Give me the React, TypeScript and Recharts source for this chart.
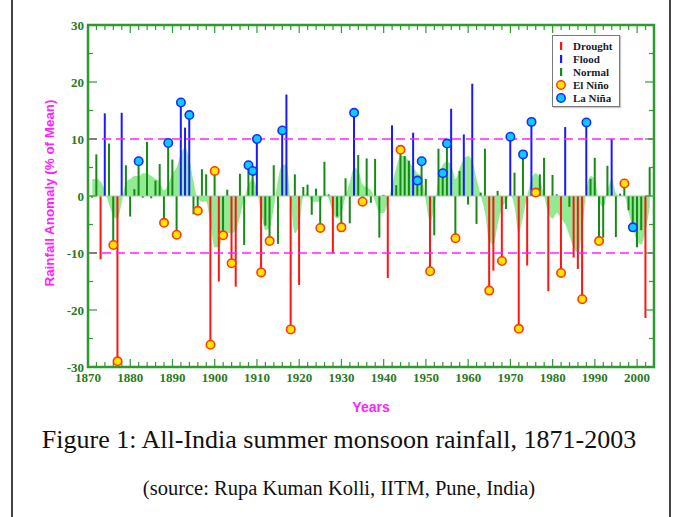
import React from 'react';
import {
  ComposedChart,
  Bar,
  Area,
  Scatter,
  XAxis,
  YAxis,
  ReferenceLine,
  ReferenceArea,
  Legend,
  Cell,
} from 'recharts';

// yearly anomaly, % of mean, 1871..2003
const FIRST_YEAR = 1871;
const rainfall = [
  -0.3, 7.3, -11.1, 14.5, 9.2, -8.6, -29.0, 14.6, 5.4, -3.6,
  1.2, 6.1, -0.3, 9.5, -0.4, 2.7, 5.6, -4.7, 9.3, 6.4,
  -6.8, 16.4, 12.0, 14.2, -3.2, -2.6, 4.7, 3.8, -26.1, 4.4,
  -15.0, -6.9, 1.1, -11.8, -15.9, 3.9, -8.6, 5.4, 4.4, 10.0,
  -13.4, -5.2, -7.9, 5.4, -8.4, 11.5, 17.8, -23.4, 3.8, -15.6,
  1.6, 2.0, -3.3, 1.3, -5.6, 6.0, 0.3, -10.1, -3.6, -5.5,
  3.1, -4.8, 14.6, 7.2, -1.0, 6.6, -1.2, 6.5, -7.3, 0.2,
  -14.4, 12.4, 1.9, 8.1, 7.0, 6.2, 11.1, 2.7, 6.1, 3.0,
  -13.2, -6.9, 8.3, 4.0, 9.2, 15.3, -7.4, 4.4, 10.8, -1.5,
  19.7, -4.9, 0.6, 8.3, -16.6, -13.1, 0.9, -11.4, -2.3, 10.4,
  4.1, -23.3, 7.3, -12.2, 13.0, 0.6, 3.8, 6.7, -16.7, 3.7,
  0.3, -13.5, 12.1, -1.9, -10.8, -12.8, -18.1, 12.9, 3.0, 6.7,
  -7.9, -7.3, 5.3, 10.0, -7.2, 0.4, 2.2, -2.5, -5.5, -9.0,
  -6.0, -21.4, 5.0,
];

// light green smoothed curve
const smoothed = [
  3, 3, 2.5, 1, -1.5, -3.5, -4, -1, 2.5, 3,
  3.5, 3.5, 4, 4, 3.5, 3, 2.5, 1, 2, 4,
  5, 7.5, 8.5, 6.5, 2.5, -0.5, -1, -1, -5, -9,
  -9, -7, -6.5, -6.5, -6, -3.5, -0.5, 2, 3, 1,
  -3, -6, -5.5, -2, 3, 5.5, 5.5, -1, -6.5, -5,
  0, 0.5, -1, -1, -1, 0.5, -0.5, -3, -4, -3,
  0, 2.5, 5, 4.5, 2, 1.5, 1, -1, -3, -3,
  -1, 2, 5, 7, 7, 6, 5, 4, 3.5, -1,
  -4.5, -2, 3, 5.5, 6, 5.5, 3, 5, 6.5, 7,
  6, 3, 0, -3, -8, -8.5, -5, -2, -1, 0.5,
  -2, -6.5, -3.5, 0, 3, 4, 3, 0, -3, -4,
  -3, -4, -5, -7, -9, -10, -6, 1, 3.5, 3,
  -1, -2, 1, 3, 0.5, 0, 0, -3, -5.5, -8,
  -8.5, -6, -2,
];

const elNinoYears = [
  1876, 1877, 1888, 1891, 1896, 1899, 1900, 1902, 1904, 1911, 1913, 1918, 1925,
  1930, 1935, 1944, 1951, 1957, 1965, 1968, 1972, 1976, 1982, 1987, 1991, 1997,
];
const laNinaYears = [
  1882, 1889, 1892, 1894, 1908, 1909, 1910, 1916, 1933, 1948, 1949, 1954, 1955,
  1970, 1973, 1975, 1988, 1999,
];

const yearTicks = [1870, 1880, 1890, 1900, 1910, 1920, 1930, 1940, 1950, 1960, 1970, 1980, 1990, 2000];
const anomalyTicks = [-30, -20, -10, 0, 10, 20, 30];

const DROUGHT = '#ff1414';
const FLOOD = '#1a1aff';
const NORMAL = '#168a16';
const AXIS_GREEN = '#2f9a2f';
const LABEL_GREEN = '#2a7a1e';
const MAGENTA = '#ff22ff';

const X_MIN = 1870;
const X_MAX = 2004;
const Y_MIN = -30;
const Y_MAX = 30;
// rough px per unit, only used for tick mark lengths
const PX_X = 566 / (X_MAX - X_MIN);
const PX_Y = 342 / (Y_MAX - Y_MIN);

const data = rainfall.map((v, i) => ({ year: FIRST_YEAR + i, anomaly: v, smooth: smoothed[i] }));
const elNinoData = elNinoYears.map((y) => ({ year: y, anomaly: rainfall[y - FIRST_YEAR] }));
const laNinaData = laNinaYears.map((y) => ({ year: y, anomaly: rainfall[y - FIRST_YEAR] }));

const barColor = (v: number) => (v >= 10 ? FLOOD : v <= -10 ? DROUGHT : NORMAL);

// inward tick marks on all four sides of the frame
const xTickMarks: { x: number; len: number }[] = [];
for (let y = X_MIN; y <= X_MAX; y += 2) {
  xTickMarks.push({ x: y, len: (y % 10 === 0 ? 8 : 5) / PX_Y });
}
const yTickMarks: { y: number; len: number }[] = [];
for (let v = Y_MIN; v <= Y_MAX; v += 5) {
  yTickMarks.push({ y: v, len: (v % 10 === 0 ? 9 : 5) / PX_X });
}

const ElNinoDot = (p: any) => (
  <circle cx={p.cx} cy={p.cy} r={4.2} fill="#ffe600" stroke="#ff3c00" strokeWidth={1.6} />
);
const LaNinaDot = (p: any) => (
  <circle cx={p.cx} cy={p.cy} r={4.2} fill="#12c8ff" stroke="#1030ff" strokeWidth={1.6} />
);

const YTitle = (props: any) => {
  const vb = props.viewBox || { x: 0, y: 25, width: 88, height: 342 };
  const x = vb.x + 49;
  const y = vb.y + vb.height / 2 - 3;
  return (
    <text
      x={x}
      y={y}
      transform={`rotate(-90 ${x} ${y})`}
      textAnchor="middle"
      dominantBaseline="central"
      fill={MAGENTA}
      fontFamily="Liberation Sans, Arial, sans-serif"
      fontWeight={700}
      fontSize={13.4}
    >
      Rainfall Anomaly (% of Mean)
    </text>
  );
};

const XTitle = (props: any) => {
  const vb = props.viewBox || { x: 88, y: 367, width: 566, height: 53 };
  return (
    <text
      x={vb.x + vb.width / 2}
      y={vb.y + 40}
      textAnchor="middle"
      dominantBaseline="central"
      fill={MAGENTA}
      fontFamily="Liberation Sans, Arial, sans-serif"
      fontWeight={700}
      fontSize={14}
    >
      Years
    </text>
  );
};

const legendRows = [
  { label: 'Drought', color: DROUGHT, dot: false },
  { label: 'Flood', color: FLOOD, dot: false },
  { label: 'Normal', color: NORMAL, dot: false },
  { label: 'El Niño', color: '#ffe600', stroke: '#ff3c00', dot: true },
  { label: 'La Niña', color: '#12c8ff', stroke: '#1030ff', dot: true },
];

const LegendBox = () => (
  <div
    style={{
      width: 68,
      height: 72,
      boxSizing: 'border-box',
      border: '1.5px solid #7a7a7a',
      background: '#fff',
      boxShadow: '1px 1px 1px #c8c8c8',
      padding: '3px 0 0 2px',
      fontFamily: 'Liberation Serif, Times New Roman, serif',
      fontWeight: 700,
      fontSize: 11,
      color: '#1b1b2e',
    }}
  >
    {legendRows.map((r) => (
      <div key={r.label} style={{ display: 'flex', alignItems: 'center', height: 13.2 }}>
        <svg width={12} height={12}>
          {r.dot ? (
            <circle cx={6} cy={6} r={4.2} fill={r.color} stroke={r.stroke} strokeWidth={1.5} />
          ) : (
            <rect x={5} y={2} width={2.2} height={8} fill={r.color} />
          )}
        </svg>
        <span style={{ marginLeft: 6, lineHeight: '12px' }}>{r.label}</span>
      </div>
    ))}
  </div>
);

const tickStyle = {
  fill: LABEL_GREEN,
  fontSize: 13,
  fontWeight: 700,
  fontFamily: 'Liberation Serif, Times New Roman, serif',
};

export default function App() {
  return (
    <div
      style={{
        position: 'absolute',
        left: 0,
        top: 0,
        width: 678,
        height: 517,
        background: '#fff',
        overflow: 'hidden',
      }}
    >
      <div style={{ position: 'absolute', left: 11, top: 0, width: 656, height: 517, borderLeft: '2px solid #444', borderRight: '2px solid #444' }} />
      <div style={{ position: 'absolute', left: 0, top: 0 }}>
        <ComposedChart width={678} height={420} data={data} margin={{ top: 25, right: 24, bottom: 0, left: 0 }}>
          <XAxis
            dataKey="year"
            type="number"
            domain={[X_MIN, X_MAX]}
            allowDataOverflow
            ticks={yearTicks}
            interval={0}
            tickLine={false}
            axisLine={false}
            tickSize={0}
            tickMargin={6}
            height={53}
            tick={tickStyle}
            label={XTitle}
          />
          <YAxis
            type="number"
            domain={[Y_MIN, Y_MAX]}
            allowDataOverflow
            ticks={anomalyTicks}
            interval={0}
            tickLine={false}
            axisLine={false}
            tickSize={0}
            tickMargin={4}
            width={88}
            tick={tickStyle}
            label={YTitle}
          />
          <Area
            type="monotone"
            dataKey="smooth"
            baseValue={0}
            stroke="none"
            fill="#7fe87f"
            fillOpacity={0.85}
            isAnimationActive={false}
          />
          <ReferenceLine y={0} stroke="#a8c8a8" strokeWidth={1} />
          <ReferenceLine y={10} stroke={MAGENTA} strokeWidth={1.6} strokeDasharray="9 5" />
          <ReferenceLine y={-10} stroke={MAGENTA} strokeWidth={1.6} strokeDasharray="9 5" />
          <Bar dataKey="anomaly" barSize={2} isAnimationActive={false}>
            {data.map((d, i) => (
              <Cell key={`b-${i}`} fill={barColor(d.anomaly)} />
            ))}
          </Bar>
          <Scatter data={elNinoData} dataKey="anomaly" shape={ElNinoDot} isAnimationActive={false} />
          <Scatter data={laNinaData} dataKey="anomaly" shape={LaNinaDot} isAnimationActive={false} />
          {xTickMarks.map((t) => (
            <ReferenceLine
              key={`xb-${t.x}`}
              segment={[{ x: t.x, y: Y_MIN }, { x: t.x, y: Y_MIN + t.len }]}
              stroke={AXIS_GREEN}
              strokeWidth={1.2}
            />
          ))}
          {xTickMarks.map((t) => (
            <ReferenceLine
              key={`xt-${t.x}`}
              segment={[{ x: t.x, y: Y_MAX }, { x: t.x, y: Y_MAX - t.len }]}
              stroke={AXIS_GREEN}
              strokeWidth={1.2}
            />
          ))}
          {yTickMarks.map((t) => (
            <ReferenceLine
              key={`yl-${t.y}`}
              segment={[{ x: X_MIN, y: t.y }, { x: X_MIN + t.len, y: t.y }]}
              stroke={AXIS_GREEN}
              strokeWidth={1.2}
            />
          ))}
          {yTickMarks.map((t) => (
            <ReferenceLine
              key={`yr-${t.y}`}
              segment={[{ x: X_MAX, y: t.y }, { x: X_MAX - t.len, y: t.y }]}
              stroke={AXIS_GREEN}
              strokeWidth={1.2}
            />
          ))}
          <ReferenceArea
            x1={X_MIN}
            x2={X_MAX}
            y1={Y_MIN}
            y2={Y_MAX}
            fill="none"
            fillOpacity={0}
            stroke={AXIS_GREEN}
            strokeWidth={2.5}
          />
          <Legend
            layout="horizontal"
            verticalAlign="middle"
            align="center"
            content={LegendBox}
            wrapperStyle={{ left: 552, top: 35, width: 68, height: 72 }}
          />
        </ComposedChart>
      </div>
      <div
        style={{
          position: 'absolute',
          left: 0,
          top: 425,
          width: 678,
          textAlign: 'center',
          fontFamily: 'Liberation Serif, Times New Roman, serif',
          fontSize: 26,
          lineHeight: '30px',
          color: '#111',
        }}
      >
        Figure 1: All-India summer monsoon rainfall, 1871-2003
      </div>
      <div
        style={{
          position: 'absolute',
          left: 0,
          top: 476,
          width: 678,
          textAlign: 'center',
          fontFamily: 'Liberation Serif, Times New Roman, serif',
          fontSize: 20.5,
          lineHeight: '24px',
          color: '#111',
        }}
      >
        (source: Rupa Kuman Kolli, IITM, Pune, India)
      </div>
    </div>
  );
}
